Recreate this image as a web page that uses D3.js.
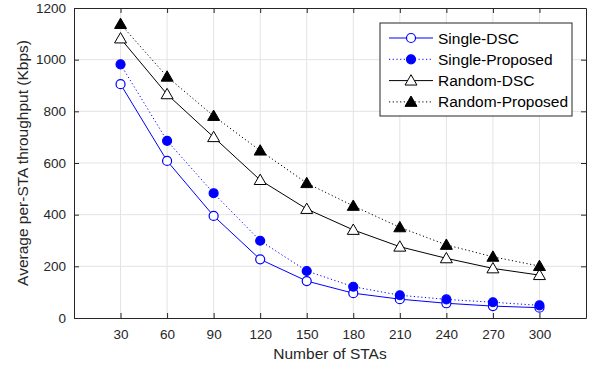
<!DOCTYPE html>
<html>
<head>
<meta charset="utf-8">
<script src="https://cdn.jsdelivr.net/npm/d3@7"></script>
<style>
  body { margin: 0; background: #fff; }
  svg { font-family: "Liberation Sans", Arial, sans-serif; }
</style>
</head>
<body>
<div id="chart"></div>
<script>
// dati
const stas = [30, 60, 90, 120, 150, 180, 210, 240, 270, 300];
const singleDSC = [905, 608, 395, 227, 143, 96, 73, 57, 46, 40];
const singleProposed = [982, 686, 483, 299, 182, 121, 88, 72, 61, 49];
const randomDSC = [1082, 866, 700, 534, 422, 341, 276, 231, 192, 166];
const randomProposed = [1138, 934, 782, 648, 522, 434, 351, 283, 237, 201];
const yTicks = [0, 200, 400, 600, 800, 1000, 1200];

const series = [
  { name: "Single-DSC", values: singleDSC, color: "#0000ff", dash: null, marker: "circle", fill: "#fff" },
  { name: "Single-Proposed", values: singleProposed, color: "#0000ff", dash: "1.2,2.5", marker: "circle", fill: "#0000ff" },
  { name: "Random-DSC", values: randomDSC, color: "#000", dash: null, marker: "triangle", fill: "#fff" },
  { name: "Random-Proposed", values: randomProposed, color: "#000", dash: "1.2,2.5", marker: "triangle", fill: "#000" },
];

const width = 589, height = 368;
const margin = { top: 8, right: 3, bottom: 50, left: 74 };
const iw = width - margin.left - margin.right;
const ih = height - margin.top - margin.bottom;

const svg = d3.select("#chart").append("svg").attr("width", width).attr("height", height);
const g = svg.append("g").attr("transform", `translate(${margin.left},${margin.top})`);

const x = d3.scaleLinear().domain([0, 330]).range([0, iw]);
const y = d3.scaleLinear().domain([0, 1200]).range([ih, 0]);

// griglia
g.append("g").selectAll("line").data(stas).join("line")
  .attr("x1", d => x(d)).attr("x2", d => x(d)).attr("y1", 0).attr("y2", ih)
  .attr("stroke", "#e3e3e3").attr("stroke-width", 1);
g.append("g").selectAll("line").data(yTicks.slice(1, -1)).join("line")
  .attr("y1", d => y(d)).attr("y2", d => y(d)).attr("x1", 0).attr("x2", iw)
  .attr("stroke", "#e3e3e3").attr("stroke-width", 1);

// assi
const axisColor = "#262626";
const xAxis = g.append("g").attr("transform", `translate(0,${ih})`)
  .call(d3.axisBottom(x).tickValues(stas).tickSizeInner(-5).tickSizeOuter(0).tickPadding(11));
const yAxis = g.append("g")
  .call(d3.axisLeft(y).tickValues(yTicks).tickFormat(d3.format("d")).tickSizeInner(-5).tickSizeOuter(0).tickPadding(8));
const xTop = g.append("g")
  .call(d3.axisTop(x).tickValues(stas).tickSizeInner(-5).tickSizeOuter(0).tickFormat(""));
const yRight = g.append("g").attr("transform", `translate(${iw},0)`)
  .call(d3.axisRight(y).tickValues(yTicks).tickSizeInner(-5).tickSizeOuter(0).tickFormat(""));
[xAxis, yAxis, xTop, yRight].forEach(a => {
  a.select(".domain").attr("stroke", axisColor).attr("stroke-width", 1);
  a.selectAll(".tick line").attr("stroke", axisColor);
  a.selectAll("text").attr("fill", axisColor).attr("font-size", 13.5)
    .attr("font-family", "Liberation Sans, Arial, sans-serif");
});

// etichette assi
svg.append("text")
  .attr("x", margin.left + iw / 2).attr("y", 359)
  .attr("text-anchor", "middle").attr("font-size", 15.5).attr("fill", axisColor)
  .text("Number of STAs");
svg.append("text")
  .attr("transform", `translate(28,${margin.top + ih / 2}) rotate(-90)`)
  .attr("text-anchor", "middle").attr("font-size", 15.5).attr("fill", axisColor)
  .text("Average per-STA throughput (Kbps)");

const triangle = d3.symbol().type(d3.symbolTriangle).size(62);

function drawMarker(sel, s) {
  if (s.marker === "circle") {
    sel.append("circle").attr("r", 4.5)
      .attr("fill", s.fill).attr("stroke", s.color).attr("stroke-width", 1.2);
  } else {
    sel.append("path").attr("d", triangle).attr("transform", "translate(0,1)")
      .attr("fill", s.fill).attr("stroke", s.color).attr("stroke-width", 1);
  }
}

const line = d3.line().x((d, i) => x(stas[i])).y(d => y(d));

series.forEach(s => {
  g.append("path").datum(s.values)
    .attr("d", line).attr("fill", "none")
    .attr("stroke", s.color).attr("stroke-width", 1)
    .attr("stroke-dasharray", s.dash);
  g.append("g").selectAll("g").data(s.values).join("g")
    .attr("transform", (d, i) => `translate(${x(stas[i])},${y(d)})`)
    .each(function () { drawMarker(d3.select(this), s); });
});

// legenda
const legend = svg.append("g").attr("transform", "translate(380,23)");
legend.append("rect").attr("width", 192).attr("height", 93)
  .attr("fill", "#fff").attr("stroke", axisColor).attr("stroke-width", 1);
series.forEach((s, i) => {
  const row = legend.append("g").attr("transform", `translate(0,${15 + i * 21.3})`);
  row.append("line").attr("x1", 9).attr("x2", 53)
    .attr("stroke", s.color).attr("stroke-width", 1).attr("stroke-dasharray", s.dash);
  const m = row.append("g").attr("transform", "translate(31,0)");
  drawMarker(m, s);
  row.append("text").attr("x", 58).attr("y", 5.5)
    .attr("font-size", 15.5).attr("fill", "#000").text(s.name);
});
</script>
</body>
</html>
